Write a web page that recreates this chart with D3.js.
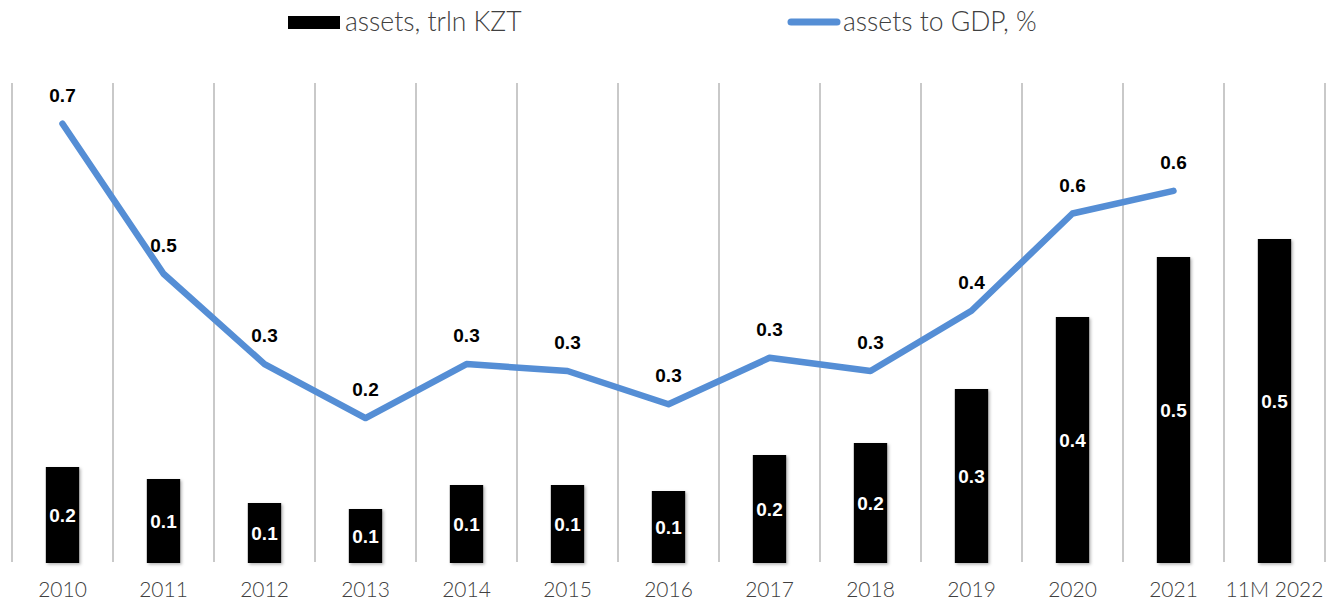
<!DOCTYPE html>
<html>
<head>
<meta charset="utf-8">
<script src="https://cdn.jsdelivr.net/npm/d3@7/dist/d3.min.js"></script>
<style>
  body { margin: 0; background: #fff; }
  svg { display: block; }
</style>
</head>
<body>
<svg id="chart" width="1337" height="601"></svg>
<script>
// categories and series
var years = ["2010", "2011", "2012", "2013", "2014", "2015", "2016", "2017", "2018", "2019", "2020", "2021", "11M 2022"];
var assets = [0.16, 0.14, 0.10, 0.09, 0.13, 0.13, 0.12, 0.18, 0.20, 0.29, 0.41, 0.51, 0.54];
var assetsToGdp = [0.70, 0.461, 0.317, 0.231, 0.317, 0.306, 0.253, 0.327, 0.306, 0.402, 0.557, 0.593];
var legendLabels = ["assets, trln KZT", "assets to GDP, %"];

var svg = d3.select("#chart");
var plotTop = 83, plotBottom = 563;

var x = d3.scaleBand().domain(years).range([12, 1325]).padding(0);
var yBar = d3.scaleLinear().domain([0, 0.8]).range([plotBottom, plotTop]);
var yLine = d3.scaleLinear().domain([0, 0.765]).range([plotBottom, plotTop]);

var defs = svg.append("defs");
var f = defs.append("filter").attr("id", "shadow").attr("x", "-20%").attr("y", "-20%").attr("width", "150%").attr("height", "150%");
f.append("feDropShadow").attr("dx", 1.5).attr("dy", 1.5).attr("stdDeviation", 1.5).attr("flood-color", "#000").attr("flood-opacity", 0.3);

// vertical gridlines at category boundaries
var bounds = years.map(function(d){ return x(d); });
bounds.push(x(years[years.length - 1]) + x.bandwidth());
svg.append("g")
  .selectAll("line")
  .data(bounds)
  .enter()
  .append("line")
  .attr("x1", function(d){ return d; })
  .attr("x2", function(d){ return d; })
  .attr("y1", plotTop)
  .attr("y2", plotBottom - 1)
  .attr("stroke", "#c9c9c9")
  .attr("stroke-width", 2);

// bars
var barW = x.bandwidth() * 0.33;
svg.append("g")
  .selectAll("rect")
  .data(assets)
  .enter()
  .append("rect")
  .attr("x", function(d, i){ return x(years[i]) + x.bandwidth() / 2 - barW / 2; })
  .attr("y", function(d){ return yBar(d); })
  .attr("width", barW)
  .attr("height", function(d){ return plotBottom - yBar(d); })
  .attr("fill", "#000")
  .attr("filter", "url(#shadow)");

svg.append("g")
  .selectAll("text")
  .data(assets)
  .enter()
  .append("text")
  .attr("x", function(d, i){ return x(years[i]) + x.bandwidth() / 2; })
  .attr("y", function(d){ return (yBar(d) + plotBottom) / 2; })
  .attr("dy", "0.36em")
  .attr("text-anchor", "middle")
  .attr("fill", "#fff")
  .attr("font-family", "Liberation Sans, Arial, sans-serif")
  .attr("font-weight", "bold")
  .attr("font-size", "19px")
  .text(function(d){ return d.toFixed(1); });

// line
var line = d3.line()
  .x(function(d, i){ return x(years[i]) + x.bandwidth() / 2; })
  .y(function(d){ return yLine(d); });

svg.append("path")
  .datum(assetsToGdp)
  .attr("d", line)
  .attr("fill", "none")
  .attr("stroke", "#558ed5")
  .attr("stroke-width", 6.5)
  .attr("stroke-linecap", "round")
  .attr("stroke-linejoin", "round");

svg.append("g")
  .selectAll("text")
  .data(assetsToGdp)
  .enter()
  .append("text")
  .attr("x", function(d, i){ return x(years[i]) + x.bandwidth() / 2; })
  .attr("y", function(d){ return yLine(d) - 22; })
  .attr("text-anchor", "middle")
  .attr("fill", "#000")
  .attr("font-family", "Liberation Sans, Arial, sans-serif")
  .attr("font-weight", "bold")
  .attr("font-size", "19px")
  .text(function(d){ return d.toFixed(1); });

// x axis labels
var xAxis = d3.axisBottom(x).tickSize(0).tickPadding(0);
var gx = svg.append("g").attr("transform", "translate(0," + 583 + ")").call(xAxis);
gx.select(".domain").remove();
gx.selectAll("text")
  .attr("font-family", "Lato, sans-serif")
  .attr("font-weight", 300)
  .attr("font-size", "21px")
  .attr("fill", "#404040")
  .attr("dy", "0.36em")
  .attr("y", 6);

// legend
var lg = svg.append("g").attr("font-family", "Lato, sans-serif").attr("font-size", "26.5px").attr("fill", "#404040");
lg.append("rect").attr("x", 288).attr("y", 16).attr("width", 52).attr("height", 13).attr("fill", "#000");
lg.append("text").attr("x", 345).attr("y", 31).attr("font-weight", 300).text(legendLabels[0]);
lg.append("line").attr("x1", 791).attr("x2", 837).attr("y1", 22).attr("y2", 22)
  .attr("stroke", "#558ed5").attr("stroke-width", 7).attr("stroke-linecap", "round");
lg.append("text").attr("x", 843).attr("y", 31).attr("font-weight", 300).text(legendLabels[1]);
</script>
</body>
</html>
